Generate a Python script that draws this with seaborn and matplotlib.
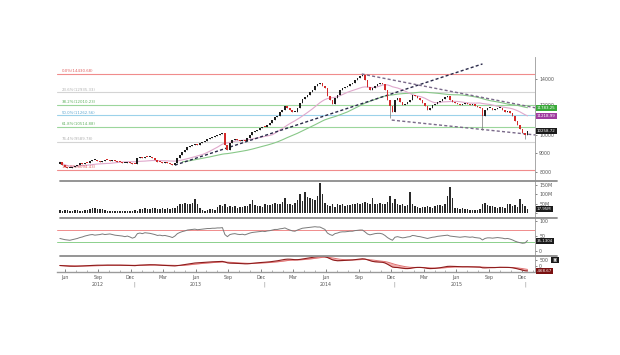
import numpy as np
import pandas as pd
import matplotlib
matplotlib.use('Agg')
import matplotlib.pyplot as plt
import matplotlib.dates as mdates
import matplotlib.transforms as mtransforms
from matplotlib.lines import Line2D
from matplotlib.ticker import NullLocator, FixedLocator, FixedFormatter
import seaborn as sns

# weekly index closes, mid-May 2012 .. mid-Dec 2015
closes = [
    8495, 8343, 8245, 8195, 8195, 8245, 8293, 8343, 8444, 8394, 8444, 8440,
    8546, 8597, 8610, 8550, 8495, 8540, 8600, 8590, 8545, 8590, 8550, 8500,
    8495, 8440, 8450, 8480, 8444, 8400, 8390, 8700, 8750, 8690, 8760, 8740,
    8751, 8700, 8600, 8495, 8490, 8444, 8480, 8440, 8390, 8343, 8440, 8690,
    8857, 9019, 9128, 9290, 9350, 9408, 9465, 9400, 9522, 9580, 9640, 9755,
    9813, 9870, 9930, 9992, 10050, 10113, 9408, 9128, 9522, 9696, 9755, 9696,
    9640, 9696, 9640, 9813, 9992, 10174, 10235, 10297, 10420, 10485, 10480, 10612,
    10740, 10937, 11140, 11205, 11478, 11617, 11900, 11757, 11617, 11478, 11490, 11757,
    12116, 12410, 12561, 12712, 12944, 13101, 13420, 13580, 13664, 13420, 13260, 12636,
    12336, 12042, 12486, 12712, 13101, 13260, 13340, 13420, 13580, 13664, 13917, 14084,
    14254, 14340, 13917, 13340, 13101, 13260, 13420, 13580, 13664, 13580, 13101, 12336,
    11900, 11478, 12336, 12486, 12189, 11971, 12040, 12189, 12336, 12712, 12636, 12486,
    12336, 12116, 11900, 11617, 11757, 11971, 12040, 12189, 12262, 12410, 12561, 12636,
    12336, 12189, 12116, 12040, 11971, 12040, 12116, 12040, 11971, 12040, 11900, 11830,
    11757, 11205, 11617, 11757, 11757, 11617, 11690, 11757, 11757, 11617, 11478, 11550,
    11410, 11205, 10870, 10612, 10360, 10113, 9992, 10258.72,
]
first_open = 8400
# long lower shadows visible on the chart: week index -> low
wick_lows = {132: 11070, 169: 10300, 186: 9750}

volume_m = [
    14, 12, 13, 15, 12, 11, 13, 14, 12, 10, 13, 15,
    22, 25, 24, 22, 20, 18, 14, 12, 11, 10, 11, 12,
    10, 9, 11, 10, 12, 11, 13, 12, 18, 22, 25, 20,
    18, 24, 28, 22, 20, 26, 18, 24, 22, 28, 25, 35,
    45, 48, 52, 50, 48, 55, 75, 45, 28, 15, 12, 14,
    18, 22, 15, 30, 40, 35, 45, 32, 38, 30, 35, 28,
    32, 30, 35, 38, 45, 70, 40, 35, 38, 32, 45, 42,
    40, 50, 55, 48, 45, 60, 80, 45, 50, 42, 55, 70,
    100, 65, 110, 85, 80, 75, 70, 90, 160, 100, 55, 40,
    35, 50, 30, 45, 40, 45, 38, 42, 40, 45, 50, 55,
    48, 55, 60, 52, 45, 80, 50, 48, 55, 50, 45, 60,
    90, 55, 75, 45, 40, 45, 38, 40, 110, 50, 35, 30,
    28, 30, 32, 35, 30, 28, 35, 40, 42, 38, 45, 90,
    140, 80, 28, 25, 22, 25, 18, 20, 15, 14, 16, 15,
    20, 45, 55, 40, 35, 38, 30, 28, 32, 30, 25, 45,
    50, 35, 40, 30, 75, 45, 35, 17.95,
]

rsi = [
    42, 40, 38, 37, 36, 38, 40, 42, 45, 47, 50, 52,
    54, 55, 53, 54, 55, 57, 55, 56, 57, 55, 53, 52,
    51, 50, 48, 50, 47, 43, 46, 58, 60, 58, 61, 60,
    59, 57, 55, 52, 53, 51, 52, 50, 48, 45, 50, 58,
    62, 65, 67, 70, 71, 72, 73, 71, 72, 73, 74, 75,
    75, 76, 76, 77, 77, 78, 55, 48, 55, 57, 58, 56,
    55, 56, 54, 57, 60, 62, 63, 64, 65, 66, 65, 67,
    68, 70, 72, 72, 74, 75, 77, 73, 70, 67, 66, 70,
    73, 76, 77, 78, 79, 80, 81, 80, 80, 76, 72, 60,
    55, 52, 58, 60, 63, 64, 64, 65, 66, 66, 68, 69,
    70, 70, 64, 57, 54, 56, 58, 59, 59, 57, 52, 45,
    40, 36, 46, 48, 46, 44, 45, 47, 48, 52, 51, 49,
    48, 46, 44, 42, 44, 46, 47, 49, 50, 51, 52, 53,
    50, 49, 48, 47, 46, 47, 48, 47, 46, 47, 45, 44,
    43, 37, 42, 44, 44, 43, 44, 45, 44, 43, 41, 42,
    40, 37, 33, 30, 28, 26, 27, 35.1304,
]

fib_high = 14430.68
fib_low = 8094.43
fib_ratios = [0.0, 0.236, 0.382, 0.5, 0.618, 0.764, 1.0]
fib_colors = ['#f08c8c', '#d4d4d4', '#9cd69c', '#9cd2ea', '#9cd69c', '#d4d4d4', '#f08c8c']
fib_text = ['#e06060', '#b0b0b0', '#60b060', '#60a8d0', '#60b060', '#b0b0b0', '#e06060']

# trend lines: (start date, price), (end date, price)
trend_lines = [
    ('2013-04-04', 8343, '2015-08-13', 15330, '#2a2a4a'),
    ('2014-09-09', 14430, '2016-01-12', 11757, '#7a6a8a'),
    ('2014-12-02', 10937, '2016-01-12', 9992, '#7a6a8a'),
]

dates = pd.date_range('2012-05-17', periods=len(closes), freq='7D')
s = pd.Series(closes, index=dates)
opens = [first_open] + closes[:-1]
highs = [max(o, c) for o, c in zip(opens, closes)]
lows = [min(o, c) for o, c in zip(opens, closes)]
for i, v in wick_lows.items():
    lows[i] = v

ma_fast = s.rolling(20, min_periods=1).mean()
ma_slow = s.rolling(50).mean()
ema12 = s.ewm(span=12, adjust=False).mean()
ema26 = s.ewm(span=26, adjust=False).mean()
macd = ema12 - ema26
signal = macd.ewm(span=9, adjust=False).mean()

sns.set_theme(style='white')
plt.rcParams['font.family'] = ['DejaVu Sans']

W, H = 620, 355
fig = plt.figure(figsize=(6.2, 3.55), dpi=100)

def px_axes(top, bottom, left=57, right=535):
    return fig.add_axes([left / W, 1 - bottom / H, (right - left) / W, (bottom - top) / H])

ax = px_axes(57, 180)
ax_v = px_axes(181, 217)
ax_r = px_axes(218, 255)
ax_m = px_axes(256, 272)
xlim = (pd.Timestamp('2012-05-09'), pd.Timestamp('2016-01-07'))
FS = 3.4

for a in (ax, ax_v, ax_r, ax_m):
    a.set_xlim(xlim)
    for sp in a.spines.values():
        sp.set_visible(False)
    a.spines['right'].set_visible(True)
    a.spines['right'].set_color('#9a9a9a')
    a.spines['right'].set_linewidth(0.6)
    a.yaxis.tick_right()
    a.tick_params(axis='y', labelsize=FS, colors='#555555', length=1.5, width=0.5, pad=1.5)
    a.set_facecolor('white')

# ---- main price panel
ax.set_yscale('log')
ax.set_ylim(7629, 15982)
ax.yaxis.set_major_locator(FixedLocator([8000, 9000, 10000, 12000, 14000]))
ax.yaxis.set_major_formatter(FixedFormatter(['8000', '9000', '10000', '12000', '14000']))
ax.yaxis.set_minor_locator(NullLocator())

for r, c, tc in zip(fib_ratios, fib_colors, fib_text):
    lvl = fib_high - r * (fib_high - fib_low)
    ax.axhline(lvl, color=c, lw=0.8, zorder=1)
    ax.text(0.01, lvl * 1.004, f'{r * 100:.1f}%({lvl:.2f})', color=tc, fontsize=2.8,
            transform=mtransforms.blended_transform_factory(ax.transAxes, ax.transData),
            va='bottom', ha='left')

sns.lineplot(x=dates, y=ma_slow.values, ax=ax, color='#88c888', lw=0.8, zorder=2)
sns.lineplot(x=dates, y=ma_fast.values, ax=ax, color='#e0a8cc', lw=0.8, zorder=2)

for d0, p0, d1, p1, col in trend_lines:
    ax.plot([pd.Timestamp(d0), pd.Timestamp(d1)], [p0, p1], color=col, lw=1.0,
            ls=(0, (2.2, 1.6)), zorder=3)

up = [c >= o for o, c in zip(opens, closes)]
cols = ['#1e1e1e' if u else '#d42a2a' for u in up]
body_bottom = [min(o, c) for o, c in zip(opens, closes)]
body_h = [max(abs(c - o), 0.008 * c) for o, c in zip(opens, closes)]
ax.vlines(dates, lows, highs, color='#777777', lw=0.5, zorder=3)
ax.bar(dates, body_h, bottom=body_bottom, width=5.2, color=cols, linewidth=0, zorder=4)
ax.set_xticks([])

def value_box(a, y, text, fc, x=1.004):
    a.text(x, y, text, transform=mtransforms.blended_transform_factory(a.transAxes, a.transData),
           fontsize=2.9, color='white', va='center', ha='left', zorder=6,
           bbox=dict(boxstyle='square,pad=0.25', fc=fc, ec='none'))

value_box(ax, ma_slow.iloc[-1], f'{ma_slow.iloc[-1]:.2f}', '#3aaa3a')
value_box(ax, ma_fast.iloc[-1], f'{ma_fast.iloc[-1]:.2f}', '#a03ca0')
value_box(ax, closes[-1], f'{closes[-1]:.2f}', '#1a1a1a')

# ---- volume panel
ax_v.bar(dates, volume_m, width=4.4, color='#2a2a2a', linewidth=0)
ax_v.set_ylim(-23, 172)
ax_v.set_yticks([0, 50, 100, 150])
ax_v.set_yticklabels(['', '50M', '100M', '150M'])
ax_v.set_xticks([])
value_box(ax_v, volume_m[-1], f'{volume_m[-1]:.2f}M', '#1a1a1a')

# ---- RSI panel
ax_r.axhline(70, color='#f08c8c', lw=0.7)
ax_r.axhline(30, color='#8cd08c', lw=0.7)
sns.lineplot(x=dates, y=rsi, ax=ax_r, color='#7a7a7a', lw=0.7)
ax_r.set_ylim(-13, 110)
ax_r.set_yticks([0, 50, 100])
ax_r.set_xticks([])
value_box(ax_r, rsi[-1], f'{rsi[-1]:.4f}', '#1a1a1a')

# ---- MACD panel
ax_m.fill_between(dates, macd.values, signal.values, color='#f2b0b0', lw=0)
sns.lineplot(x=dates, y=signal.values, ax=ax_m, color='#e07070', lw=0.7)
sns.lineplot(x=dates, y=macd.values, ax=ax_m, color='#8e1c1c', lw=0.8)
ax_m.set_ylim(-560, 820)
ax_m.set_yticks([0, 500])
value_box(ax_m, macd.iloc[-1], f'{macd.iloc[-1]:.2f}', '#7a1010')
value_box(ax_m, 480, ' \u25a3 ', '#1a1a1a', x=1.035)

ax_m.xaxis.set_major_locator(mdates.MonthLocator(bymonth=[3, 6, 9, 12]))
ax_m.xaxis.set_major_formatter(mdates.DateFormatter('%b'))
ax_m.xaxis.set_minor_locator(mdates.MonthLocator())
ax_m.tick_params(axis='x', which='major', labelsize=FS, colors='#555555', direction='in',
                 length=2.0, width=0.5, pad=2, bottom=True)
ax_m.tick_params(axis='x', which='minor', direction='in', length=1.2, width=0.4,
                 colors='#777777', bottom=True)
ax_m.spines['bottom'].set_visible(True)
ax_m.spines['bottom'].set_color('#9a9a9a')
ax_m.spines['bottom'].set_linewidth(1.0)

bt = mtransforms.blended_transform_factory(ax_m.transData, ax_m.transAxes)
for yr, d in [('2012', '2012-09-01'), ('2013', '2013-06-01'), ('2014', '2014-06-01'), ('2015', '2015-06-01')]:
    ax_m.text(pd.Timestamp(d), -0.62, yr, transform=bt, fontsize=FS, color='#555555', ha='center', va='top')
for d in ['2012-12-10', '2013-12-10', '2014-12-10', '2015-12-10']:
    ax_m.text(pd.Timestamp(d), -0.62, '|', transform=bt, fontsize=FS, color='#777777', ha='center', va='top')

for a in (ax, ax_v, ax_r, ax_m):
    a.set_xlabel('')
    a.set_ylabel('')

# panel separators
for y in (180.5, 217.5, 255.5):
    fig.add_artist(Line2D([60 / W, 557 / W], [1 - y / H, 1 - y / H], color='#8c8c8c', lw=1.3))

fig.savefig('out.png', dpi=100)
